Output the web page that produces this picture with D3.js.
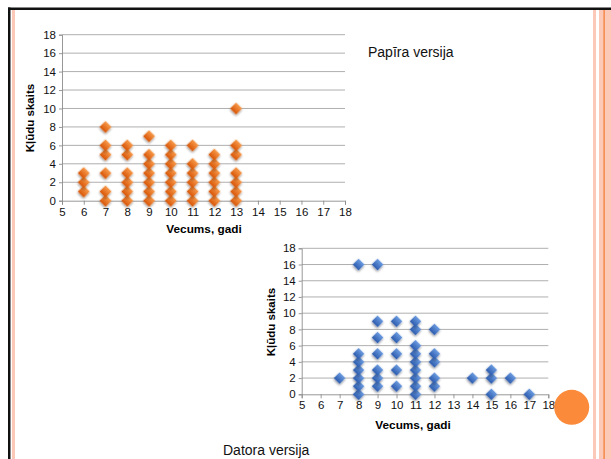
<!DOCTYPE html>
<html>
<head>
<meta charset="utf-8">
<script src="https://cdn.jsdelivr.net/npm/d3@7"></script>
<style>
  body { margin: 0; background: #fff; }
  svg { display: block; font-family: "Liberation Sans", Arial, sans-serif; }
</style>
</head>
<body>
<div id="canvas"></div>
<script>
"use strict"

/* Data: paper version (orange) */
let paperAges =   [6, 6, 6, 7, 7, 7, 7, 7, 7, 8, 8, 8, 8, 8, 8, 9, 9, 9, 9, 9, 9, 9,
                   10, 10, 10, 10, 10, 10, 10, 11, 11, 11, 11, 11, 11, 12, 12, 12, 12, 12, 12,
                   13, 13, 13, 13, 13, 13, 13];
let paperErrors = [1, 2, 3, 0, 1, 3, 5, 6, 8, 0, 1, 2, 3, 5, 6, 0, 1, 2, 3, 4, 5, 7,
                   0, 1, 2, 3, 4, 5, 6, 0, 1, 2, 3, 4, 6, 0, 1, 2, 3, 4, 5,
                   0, 1, 2, 3, 5, 6, 10];

/* Data: computer version (blue) */
let pcAges =   [7, 8, 8, 8, 8, 8, 8, 8, 9, 9, 9, 9, 9, 9, 9, 10, 10, 10, 10, 10,
                11, 11, 11, 11, 11, 11, 11, 11, 11, 12, 12, 12, 12, 12, 14, 15, 15, 15, 16, 17];
let pcErrors = [2, 0, 1, 2, 3, 4, 5, 16, 1, 2, 3, 5, 7, 9, 16, 1, 3, 5, 7, 9,
                0, 1, 2, 3, 4, 5, 6, 8, 9, 1, 2, 4, 5, 8, 2, 0, 2, 3, 2, 0];

let xTicks = [5, 6, 7, 8, 9, 10, 11, 12, 13, 14, 15, 16, 17, 18];
let yTicks = [0, 2, 4, 6, 8, 10, 12, 14, 16, 18];

let xTitle = "Vecums, gadi";
let yTitle = "Kļūdu skaits";

/* Canvas */
let svgWidth = 611;
let svgHeight = 459;

let svg = d3.select("#canvas")
    .append("svg")
    .attr("width", svgWidth)
    .attr("height", svgHeight);

let defs = svg.append("defs");

let shadow = defs.append("filter")
    .attr("id", "shadow")
    .attr("x", "-50%").attr("y", "-50%")
    .attr("width", "200%").attr("height", "200%");
shadow.append("feDropShadow")
    .attr("dx", 0.8).attr("dy", 1.2)
    .attr("stdDeviation", 0.9)
    .attr("flood-color", "#000")
    .attr("flood-opacity", 0.45);

function addGradient(id, light, dark) {
    let g = defs.append("linearGradient")
        .attr("id", id)
        .attr("x1", 0).attr("y1", 0).attr("x2", 0).attr("y2", 1);
    g.append("stop").attr("offset", "0%").attr("stop-color", light);
    g.append("stop").attr("offset", "100%").attr("stop-color", dark);
}
addGradient("gradOrange", "#f89a4c", "#d85606");
addGradient("gradBlue", "#6c9be0", "#2b5cae");

/* Slide frame */
svg.append("rect")
    .attr("x", 12).attr("y", 10)
    .attr("width", 3).attr("height", svgHeight - 10)
    .attr("fill", "#fcc9b8");
svg.append("rect")
    .attr("x", 593).attr("y", 10)
    .attr("width", 3).attr("height", svgHeight - 10)
    .attr("fill", "#fcc9b8");
svg.append("rect")
    .attr("x", 599).attr("y", 10)
    .attr("width", 12).attr("height", svgHeight - 10)
    .attr("fill", "#fcc9b8");
svg.append("rect")
    .attr("x", 603.5).attr("y", 10)
    .attr("width", 1.2).attr("height", svgHeight - 10)
    .attr("fill", "#f47a30");
svg.append("rect")
    .attr("x", 8).attr("y", 7.5)
    .attr("width", svgWidth - 8).attr("height", 2.5)
    .attr("fill", "#111");
svg.append("rect")
    .attr("x", 8).attr("y", 7.5)
    .attr("width", 2.5).attr("height", svgHeight - 7.5)
    .attr("fill", "#111");

/* One scatter chart */
function drawChart(cfg) {
    let x = d3.scaleLinear().domain([5, 18]).range([cfg.left, cfg.right]);
    let y = d3.scaleLinear().domain([0, 18]).range([cfg.bottom, cfg.top]);

    let g = svg.append("g");

    // horizontal gridlines
    g.selectAll("line.grid")
        .data(yTicks.filter(function (t) { return t > 0; }))
        .join("line")
        .attr("class", "grid")
        .attr("x1", cfg.left).attr("x2", cfg.right)
        .attr("y1", function (t) { return y(t); })
        .attr("y2", function (t) { return y(t); })
        .attr("stroke", "#a6a6a6")
        .attr("stroke-width", 0.9);

    // y axis
    let yAxis = g.append("g")
        .attr("transform", "translate(" + cfg.left + ",0)")
        .call(d3.axisLeft(y).tickValues(yTicks).tickSize(3).tickPadding(3));
    // x axis
    let xAxis = g.append("g")
        .attr("transform", "translate(0," + cfg.bottom + ")")
        .call(d3.axisBottom(x).tickValues(xTicks).tickSize(4).tickPadding(3));

    [xAxis, yAxis].forEach(function (a) {
        a.select(".domain").attr("stroke", "#8c8c8c").attr("stroke-width", 0.9);
        a.selectAll(".tick line").attr("stroke", "#8c8c8c").attr("stroke-width", 0.9);
        a.selectAll(".tick text")
            .attr("fill", "#111")
            .style("font-size", "11.5px")
            .style("font-family", "Liberation Sans, Arial, sans-serif");
    });

    // axis titles
    g.append("text")
        .attr("x", cfg.xTitleX)
        .attr("y", cfg.xTitleY)
        .attr("text-anchor", "middle")
        .style("font-size", "11.8px")
        .style("font-weight", "bold")
        .text(xTitle);
    g.append("text")
        .attr("transform", "translate(" + cfg.yTitleX + "," + cfg.yTitleY + ") rotate(-90)")
        .attr("text-anchor", "middle")
        .style("font-size", "11.5px")
        .style("font-weight", "bold")
        .text(yTitle);

    // points
    let diamond = d3.symbol().type(d3.symbolSquare).size(cfg.markSize);
    g.selectAll("path.pt")
        .data(d3.range(cfg.ages.length))
        .join("path")
        .attr("class", "pt")
        .attr("d", diamond)
        .attr("transform", function (i) {
            return "translate(" + x(cfg.ages[i]) + "," + y(cfg.errors[i]) + ") rotate(45)";
        })
        .attr("fill", cfg.fill)
        .attr("filter", "url(#shadow)");
}

drawChart({
    ages: paperAges, errors: paperErrors,
    left: 62, right: 345, top: 34.7, bottom: 200.7,
    xTitleX: 204, xTitleY: 233, yTitleX: 34, yTitleY: 118,
    markSize: 72, fill: "url(#gradOrange)"
});

drawChart({
    ages: pcAges, errors: pcErrors,
    left: 301.7, right: 548.3, top: 248.3, bottom: 394.3,
    xTitleX: 413, xTitleY: 429, yTitleX: 274.5, yTitleY: 322,
    markSize: 68, fill: "url(#gradBlue)"
});

/* Chart captions */
svg.append("text")
    .attr("x", 368).attr("y", 57)
    .style("font-size", "14px")
    .attr("fill", "#111")
    .text("Papīra versija");

svg.append("text")
    .attr("x", 223).attr("y", 455)
    .style("font-size", "14px")
    .attr("fill", "#111")
    .text("Datora versija");

/* Orange decorative circle */
svg.append("circle")
    .attr("cx", 571.7).attr("cy", 407.3)
    .attr("r", 17.5)
    .attr("fill", "#fb8a3a");
</script>
</body>
</html>
